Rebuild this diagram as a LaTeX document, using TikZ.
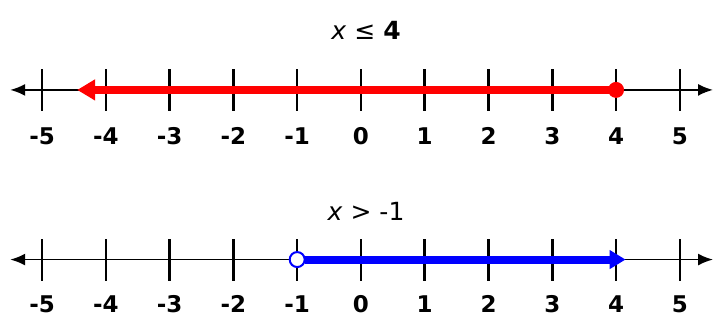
\documentclass[tikz,border=0pt]{standalone}
\usepackage{fontspec}
\setmainfont{DejaVu Sans}
\usepackage{tikz}
\usetikzlibrary{arrows.meta}

\tikzset{
  axis/.style={line width=1.8pt, {Latex[length=15pt,width=12pt]}-{Latex[length=15pt,width=12pt]}},
  tickmark/.style={line width=2.6pt},
  ticklabel/.style={font=\fontsize{23}{27}\selectfont\bfseries, inner sep=0pt},
  title/.style={font=\fontsize{25}{30}\selectfont, inner sep=0pt},
  closeddot/.style={circle, fill=red, inner sep=0pt, minimum size=16pt},
  opendot/.style={circle, draw=blue, line width=2pt, fill=white, inner sep=0pt, minimum size=15pt},
  redray/.style={red, line width=8pt, -{Triangle[length=18pt,width=20pt]}},
  blueray/.style={blue, line width=8pt, -{Triangle[length=16pt,width=18pt]}}
}

\begin{document}
\begin{tikzpicture}[x=63.8pt, y=63.8pt]
        \useasboundingbox (-5.66,-3.60) rectangle (5.52,1.41);

        % Top number line: x <= 4
        \node[title] (t1) at (0.08,0.94) {\textit{x} ≤ \textbf{4}};
        \coordinate (l1) at (-5.5,0);
        \coordinate (r1) at (5.52,0);
        \draw[axis] (l1) -- (r1);
        \foreach \i in {-5,...,5} {
            \draw[tickmark] (\i,-0.33) -- (\i,0.33);
            \node[ticklabel] (a\i) at (\i,-0.72) {\i};
        }
        \coordinate (redend) at (-4.45,0);
        \node[closeddot] (p4) at (4,0) {};
        \draw[redray] (p4.center) -- (redend);

        % Bottom number line: x > -1
        \node[title] (t2) at (0.08,-1.91) {\textit{x} > -1};
        \coordinate (l2) at (-5.5,-2.66);
        \coordinate (r2) at (5.52,-2.66);
        \draw[axis] (l2) -- (r2);
        \foreach \i in {-5,...,5} {
            \draw[tickmark] (\i,-2.99) -- (\i,-2.33);
            \node[ticklabel] (b\i) at (\i,-3.36) {\i};
        }
        \coordinate (blueend) at (4.15,-2.66);
        \draw[blueray] (-0.87,-2.66) -- (blueend);
        \node[opendot] (m1) at (-1,-2.66) {};
\end{tikzpicture}
\end{document}
